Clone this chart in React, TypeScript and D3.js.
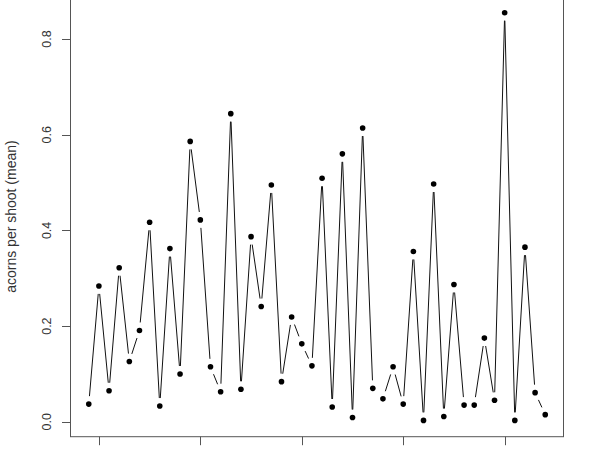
import React from "react";
import * as d3 from "d3";

const acorns: number[] = [
  0.037, 0.284, 0.065, 0.322, 0.126, 0.191, 0.417, 0.033, 0.362, 0.100,
  0.586, 0.422, 0.115, 0.063, 0.644, 0.068, 0.387, 0.241, 0.495, 0.084,
  0.219, 0.163, 0.117, 0.509, 0.031, 0.560, 0.009, 0.614, 0.070, 0.048,
  0.115, 0.037, 0.356, 0.003, 0.497, 0.011, 0.287, 0.035, 0.035, 0.175,
  0.045, 0.855, 0.003, 0.365, 0.061, 0.015,
];
const xTicks: number[] = [2, 12, 22, 32, 42];
const yTicks: number[] = [0, 0.2, 0.4, 0.6, 0.8];
const yTickLabels: string[] = ["0.0", "0.2", "0.4", "0.6", "0.8"];
const yLabel = "acorns per shoot (mean)";

const W = 600;
const H = 450;
const box = { left: 70.5, right: 563.5, top: -3.6, bottom: 436.7 };

export default function App() {
  const n = acorns.length;
  const xPad = (n - 1) * 0.04;
  const x = d3.scaleLinear().domain([1 - xPad, n + xPad]).range([box.left, box.right]);
  const yMin = d3.min(acorns)!;
  const yMax = d3.max(acorns)!;
  const yPad = (yMax - yMin) * 0.04;
  const y = d3.scaleLinear().domain([yMin - yPad, yMax + yPad]).range([box.bottom, box.top]);

  const pts = acorns.map((v, i) => [x(i + 1), y(v)] as [number, number]);
  const gap = 8;
  const segs: string[] = [];
  for (let i = 0; i < pts.length - 1; i++) {
    const [x1, y1] = pts[i];
    const [x2, y2] = pts[i + 1];
    const dx = x2 - x1;
    const dy = y2 - y1;
    const d = Math.hypot(dx, dy);
    if (d <= 2 * gap) continue;
    const ux = dx / d;
    const uy = dy / d;
    segs.push(
      d3.line()([
        [x1 + ux * gap, y1 + uy * gap],
        [x2 - ux * gap, y2 - uy * gap],
      ])!
    );
  }

  const font = "'Liberation Sans', Arial, sans-serif";
  const axisColor = "#555";
  const textColor = "#333";

  return (
    <svg
      width={W}
      height={H}
      style={{ position: "absolute", left: 0, top: 0, background: "#fff" }}
    >
      <rect x={0} y={0} width={W} height={H} fill="#fff" />
      {segs.map((d, i) => (
        <path key={i} d={d} stroke="#111" strokeWidth={1} fill="none" />
      ))}
      {pts.map(([px, py], i) => (
        <circle key={i} cx={px} cy={py} r={2.8} fill="#000" />
      ))}
      <rect
        x={box.left}
        y={box.top}
        width={box.right - box.left}
        height={box.bottom - box.top}
        fill="none"
        stroke={axisColor}
        strokeWidth={1}
      />
      {xTicks.map((t) => (
        <line
          key={t}
          x1={Math.round(x(t)) + 0.5}
          x2={Math.round(x(t)) + 0.5}
          y1={box.bottom}
          y2={box.bottom + 8.5}
          stroke={axisColor}
          strokeWidth={1}
        />
      ))}
      {yTicks.map((t, i) => (
        <g key={t}>
          <line
            x1={box.left - 8.5}
            x2={box.left}
            y1={Math.round(y(t)) + 0.5}
            y2={Math.round(y(t)) + 0.5}
            stroke={axisColor}
            strokeWidth={1}
          />
          <text
            transform={`translate(51,${y(t)}) rotate(-90)`}
            textAnchor="middle"
            fontFamily={font}
            fontSize={12.5}
            fill={textColor}
          >
            {yTickLabels[i]}
          </text>
        </g>
      ))}
      <text
        transform={`translate(15.5,${(box.top + box.bottom) / 2}) rotate(-90)`}
        textAnchor="middle"
        fontFamily={font}
        fontSize={14}
        fill={textColor}
      >
        {yLabel}
      </text>
    </svg>
  );
}
